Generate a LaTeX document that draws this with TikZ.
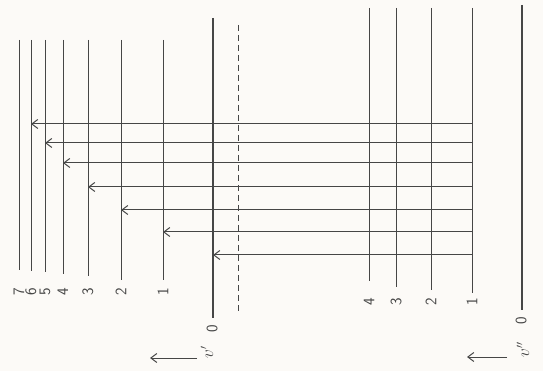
\documentclass[tikz,border=0pt]{standalone}
\usetikzlibrary{arrows.meta}
\definecolor{paper}{RGB}{252,250,247}
\definecolor{ink}{RGB}{70,70,70}

\begin{document}
\begin{tikzpicture}[x=1pt, y=-1pt,
    level/.style={draw=ink, line width=1pt},
    ground/.style={draw=ink, line width=1.7pt},
    trans/.style={->, >={Straight Barb[length=6pt,width=9pt]}, draw=ink, line width=1pt},
    lab/.style={rotate=90, text=ink, inner sep=0pt, font=\sffamily\fontsize{16}{18}\selectfont},
]
\fill[paper] (0,0) rectangle (543,371);
\useasboundingbox (0,0) rectangle (543,371);

% upper state v'
\draw[ground] (213,18) coordinate (ut0) -- (213,318);
\foreach \n/\x/\yb in {1/163/280, 2/121/280, 3/88/276, 4/63/274, 5/45/272, 6/31/271, 7/19/270} {
  \draw[level] (\x,40) coordinate (ut\n) -- (\x,\yb);
  \node[lab] (ulab\n) at (\x,292) {\n};
}
\draw[level, dash pattern=on 6pt off 4pt] (238,25) coordinate (mid) -- (238,313);
\node[lab] (ulab0) at (212,329) {0};
\node[lab] (uname) at (207,352) {$v'$};
\coordinate (uarrtail) at (197,358);
\coordinate (uarrtip) at (150,358);
\draw[trans] (uarrtail) -- (uarrtip);

% lower state v''
\draw[ground] (522,5) coordinate (lt0) -- (522,310);
\foreach \n/\x/\yb in {1/472/293, 2/431/290, 3/396/287, 4/369/281} {
  \draw[level] (\x,8) coordinate (lt\n) -- (\x,\yb);
  \node[lab] (llab\n) at (\x,302) {\n};
}
\node[lab] (llab0) at (521,321) {0};
\node[lab] (lname) at (523,350) {$v''$};
\coordinate (larrtail) at (507,357);
\coordinate (larrtip) at (467,357);
\draw[trans] (larrtail) -- (larrtip);

% transitions from v''=1
\foreach \n/\y in {0/255, 1/232, 2/210, 3/187, 4/163, 5/143, 6/124} {
  \coordinate (row\n) at (0,\y);
  \draw[trans] (lt1 |- row\n) -- (ut\n |- row\n);
}
\end{tikzpicture}
\end{document}
